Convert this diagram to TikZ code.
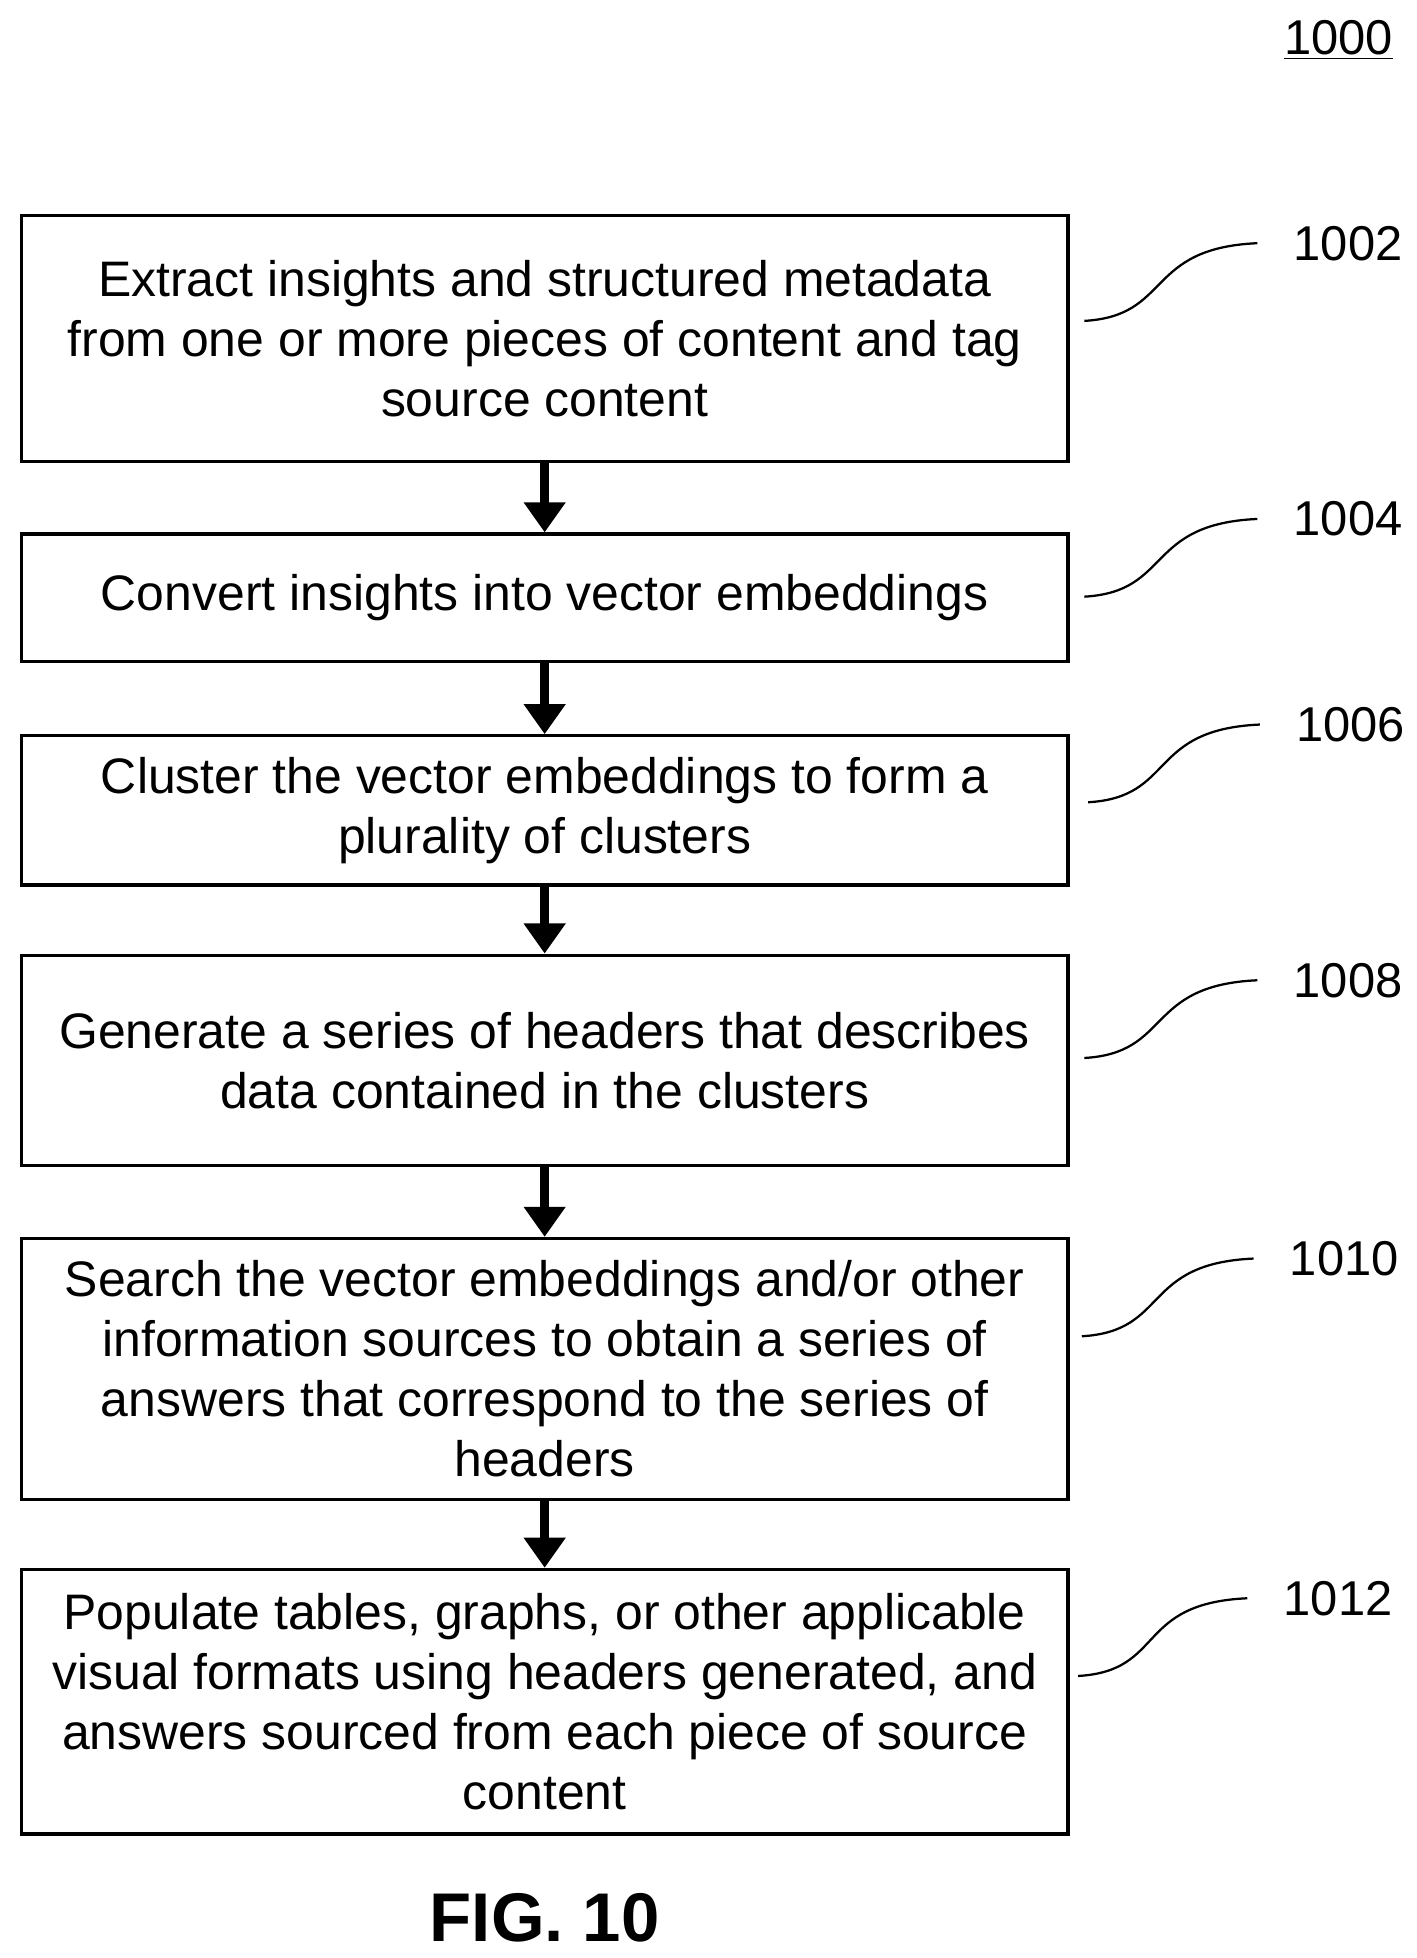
\documentclass[tikz,border=0pt]{standalone}
\usepackage{fontspec}
\setmainfont{Liberation Sans}
\usetikzlibrary{arrows.meta,calc}
\begin{document}
\begin{tikzpicture}[x=0.5pt,y=-0.5pt,
 box/.style={draw,line width=1.3pt,minimum width=417.5pt,align=center,inner sep=0pt,font=\fontsize{19.9}{24}\selectfont},
 arr/.style={line width=3.4pt,-{Triangle[width=16pt,length=12pt]}},
 lead/.style={line width=0.9pt},
 lab/.style={font=\fontsize{19.5}{22}\selectfont}]
\useasboundingbox (0,0) rectangle (1130,1562);
\node[box,minimum height=98pt] (b1) at (434.5,270) {Extract insights and structured metadata\\from one or more pieces of content and tag\\source content};
\node[box,minimum height=51pt] (b2) at (434.5,477) {Convert insights into vector embeddings};
\node[box,minimum height=59.5pt] (b3) at (434.5,646.5) {Cluster the vector embeddings to form a\\plurality of clusters};
\node[box,minimum height=84pt] (b4) at (434.5,846) {Generate a series of headers that describes\\data contained in the clusters};
\node[box,minimum height=104pt] (b5) at (434.5,1092) {Search the vector embeddings and/or other\\information sources to obtain a series of\\answers that correspond to the series of\\headers};
\node[box,minimum height=105.5pt] (b6) at (434.5,1357.5) {Populate tables, graphs, or other applicable\\visual formats using headers generated, and\\answers sourced from each piece of source\\content};
\foreach \a/\b in {b1/b2,b2/b3,b3/b4,b4/b5,b5/b6} \draw[arr] (\a.south) -- (\b.north);
\node[lab] (n0) at (1068,32) {\underline{1000}};
\foreach \n/\y/\t/\xs/\xe in {l1/194/1002/865/1003,l2/414/1004/865/1003,l3/578/1006/868/1005,l4/782/1008/865/1003,l5/1004/1010/863/1000,l6/1275/1012/860/995}{
 \node[lab,anchor=west] (\n) at (\xe+22,\y) {\t};
 \coordinate (\n s) at (\xe,\y);
 \coordinate (\n e) at (\xs,\y+62);
 \draw[lead] (\n e) .. controls ($(\n e)+(70,-4)$) and ($(\n s)+(-90,4)$) .. (\n s);
}
\node[font=\bfseries\fontsize{27.5}{32}\selectfont] (fig) at (434.5,1530) {FIG. 10};
\end{tikzpicture}
\end{document}
